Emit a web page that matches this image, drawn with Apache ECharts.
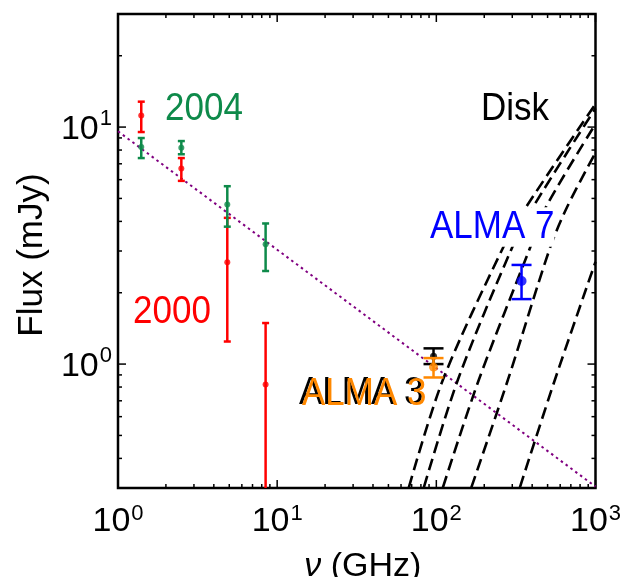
<!DOCTYPE html>
<html><head><meta charset="utf-8">
<script src="https://cdn.jsdelivr.net/npm/echarts@6/dist/echarts.min.js"></script>
<style>html,body{margin:0;padding:0;background:#fff}#c{width:628px;height:577px}</style>
</head><body><div id="c"></div>
<script>
// ---------------- data ----------------
const obs2000Freq = [1.4, 2.5, 4.86, 8.46];
const obs2000Flux = [11.2, 6.68, 2.69, 0.82];
const obs2000Low  = [9.53, 5.93, 1.245, 0.1];
const obs2000High = [12.8, 7.40, 4.14, 1.49];

const obs2004Freq = [1.4, 2.5, 4.86, 8.46];
const obs2004Flux = [8.24, 8.19, 4.71, 3.20];
const obs2004Low  = [7.40, 7.68, 3.80, 2.47];
const obs2004High = [8.99, 8.73, 5.63, 3.92];

const alma3bFreq = [96];
const alma3bFlux = [1.08];
const alma3bLow  = [1.0];
const alma3bHigh = [1.165];

const alma3Freq = [96];
const alma3Flux = [0.971];
const alma3Low  = [0.878];
const alma3High = [1.06];

const alma7Freq = [343];
const alma7Flux = [2.24];
const alma7Low  = [1.88];
const alma7High = [2.62];

const powerLawFreq = [1, 1000];
const powerLawFlux = [9.6, 0.304];

const diskAFreq = [67.2, 110, 262, 366, 1000];
const diskAFlux = [0.302, 0.859, 3.09, 4.59, 12.5];
const diskBFreq = [83.5, 136.6, 298.6, 404.6, 1000];
const diskBFlux = [0.302, 0.859, 3.09, 4.59, 12.0];
const diskCFreq = [110, 185, 387.6, 488, 1000];
const diskCFlux = [0.302, 0.859, 3.09, 4.59, 10.3];
const diskDFreq = [166, 281.8, 517.6, 662, 1000];
const diskDFlux = [0.302, 0.859, 3.09, 4.59, 7.8];
const diskEFreq = [335, 556, 1000];
const diskEFlux = [0.302, 0.859, 2.7];

const xMajorTicks = [1, 10, 100, 1000];
const xMinorTicks = [2,3,4,5,6,7,8,9,20,30,40,50,60,70,80,90,200,300,400,500,600,700,800,900];
const yMajorTicks = [1, 10];
const yMinorTicks = [0.3,0.4,0.5,0.6,0.7,0.8,0.9,2,3,4,5,6,7,8,9,20,30];

// ---------------- helpers ----------------
const FONT = '"Liberation Sans", Arial, Helvetica, sans-serif';
const zip = (a, b) => a.map((v, i) => [v, b[i]]);
const zip3 = (a, b, c) => a.map((v, i) => [v, b[i], c[i]]);

function errRender(capW, color, lw) {
  return function (params, api) {
    const cs = params.coordSys;
    const x = api.value(0), lo = api.value(1), hi = api.value(2);
    const pLo = api.coord([x, lo]), pHi = api.coord([x, hi]);
    const yb = cs.y + cs.height, yt = cs.y;
    const y1 = Math.min(pLo[1], yb), y2 = Math.max(pHi[1], yt);
    const st = { stroke: color, lineWidth: lw };
    const ch = [{ type: 'line', shape: { x1: pLo[0], y1: y1, x2: pLo[0], y2: y2 }, style: st }];
    if (pHi[1] >= yt) ch.push({ type: 'line', shape: { x1: pHi[0] - capW / 2, y1: pHi[1], x2: pHi[0] + capW / 2, y2: pHi[1] }, style: st });
    if (pLo[1] <= yb) ch.push({ type: 'line', shape: { x1: pLo[0] - capW / 2, y1: pLo[1], x2: pLo[0] + capW / 2, y2: pLo[1] }, style: st });
    return { type: 'group', children: ch };
  };
}
function errSeries(freq, lo, hi, capW, color, lw, z) {
  return { type: 'custom', data: zip3(freq, lo, hi), encode: { x: 0, y: [1, 2] },
    renderItem: errRender(capW, color, lw), z: z, silent: true };
}
function dotSeries(freq, flux, color, size, z) {
  return { type: 'scatter', data: zip(freq, flux), symbol: 'circle', symbolSize: size,
    itemStyle: { color: color }, z: z, silent: true };
}
function diskSeries(freq, flux) {
  return { type: 'line', data: zip(freq, flux), showSymbol: false, symbol: 'none', smooth: 0.3,
    lineStyle: { color: '#000', width: 2.6, type: [12, 6] }, z: 3, silent: true, clip: true };
}
function xTickRender(params, api) {
  const cs = params.coordSys;
  const px = api.coord([api.value(0), 1])[0];
  const len = api.value(2);
  const st = { stroke: '#000', lineWidth: 1.5 };
  return { type: 'group', children: [
    { type: 'line', shape: { x1: px, y1: cs.y + cs.height, x2: px, y2: cs.y + cs.height - len }, style: st },
    { type: 'line', shape: { x1: px, y1: cs.y, x2: px, y2: cs.y + len }, style: st } ] };
}
function yTickRender(params, api) {
  const cs = params.coordSys;
  const py = api.coord([1, api.value(1)])[1];
  const len = api.value(2);
  const st = { stroke: '#000', lineWidth: 1.5 };
  return { type: 'group', children: [
    { type: 'line', shape: { x1: cs.x, y1: py, x2: cs.x + len, y2: py }, style: st },
    { type: 'line', shape: { x1: cs.x + cs.width, y1: py, x2: cs.x + cs.width - len, y2: py }, style: st } ] };
}
function powLabel(v) {
  const e = Math.log10(v), r = Math.round(e);
  if (Math.abs(e - r) > 1e-6) return '';
  return '{b|10}{s|' + r + '}';
}
const xLabelRich = {
  b: { fontFamily: FONT, fontSize: 34, color: '#000', lineHeight: 36 },
  s: { fontFamily: FONT, fontSize: 22, color: '#000', lineHeight: 22, padding: [0, 0, 16, 1] }
};
const yLabelRich = {
  b: { fontFamily: FONT, fontSize: 34, color: '#000', lineHeight: 36, padding: [6, 0, 0, 0] },
  s: { fontFamily: FONT, fontSize: 22, color: '#000', lineHeight: 22, padding: [0, 0, 16, 1] }
};
function annot(text, x, y, color, z, extra) {
  return { type: 'text', x: x, y: y, z: z, scaleY: 1.1,
    style: Object.assign({ text: text, fill: color, font: '35px ' + FONT, align: 'left', verticalAlign: 'middle' }, extra || {}) };
}

const chart = echarts.init(document.getElementById('c'), null, { renderer: 'canvas' });
chart.setOption({
  animation: false,
  backgroundColor: '#fff',
  grid: { left: 118, right: 32.5, top: 14, bottom: 89, outerBoundsMode: 'none', containLabel: false,
    show: true, borderColor: '#000', borderWidth: 2.5, backgroundColor: 'transparent' },
  xAxis: {
    type: 'log', logBase: 10, min: 1, max: 1000,
    axisLine: { show: false }, axisTick: { show: false }, splitLine: { show: false },
    axisLabel: { formatter: powLabel, rich: xLabelRich, margin: 16, showMinLabel: true, showMaxLabel: true },
    name: '{i|ν} (GHz)', nameLocation: 'middle', nameGap: 62,
    nameTextStyle: { fontFamily: FONT, fontSize: 34, color: '#000', padding: [0, 0, 0, 12],
      rich: { i: { fontFamily: FONT, fontSize: 34, fontStyle: 'italic', color: '#000' } } }
  },
  yAxis: {
    type: 'log', logBase: 10, min: 0.3, max: 30,
    axisLine: { show: false }, axisTick: { show: false }, splitLine: { show: false },
    axisLabel: { formatter: powLabel, rich: yLabelRich, margin: 6, showMinLabel: true, showMaxLabel: true },
    name: 'Flux (mJy)', nameLocation: 'middle', nameGap: 64, nameRotate: 90,
    nameTextStyle: { fontFamily: FONT, fontSize: 35, color: '#000', padding: [0, 8, 0, 0] }
  },
  series: [
    { type: 'custom', data: xMajorTicks.map(v => [v, 1, 8]).concat(xMinorTicks.map(v => [v, 1, 4])),
      encode: { x: 0, y: 1 }, renderItem: xTickRender, z: 1, silent: true },
    { type: 'custom', data: yMajorTicks.map(v => [1, v, 8]).concat(yMinorTicks.map(v => [1, v, 4])),
      encode: { x: 0, y: 1 }, renderItem: yTickRender, z: 1, silent: true },
    { type: 'line', data: zip(powerLawFreq, powerLawFlux), showSymbol: false, symbol: 'none',
      lineStyle: { color: '#800080', width: 2, type: [2.5, 3.5] }, z: 2, silent: true },
    diskSeries(diskAFreq, diskAFlux),
    diskSeries(diskBFreq, diskBFlux),
    diskSeries(diskCFreq, diskCFlux),
    diskSeries(diskDFreq, diskDFlux),
    diskSeries(diskEFreq, diskEFlux),
    errSeries(obs2000Freq, obs2000Low, obs2000High, 7, '#ff0000', 2.5, 5),
    dotSeries(obs2000Freq, obs2000Flux, '#ff0000', 6, 5),
    errSeries(obs2004Freq, obs2004Low, obs2004High, 7, '#0e8a4a', 2.5, 6),
    dotSeries(obs2004Freq, obs2004Flux, '#0e8a4a', 6, 6),
    errSeries(alma3bFreq, alma3bLow, alma3bHigh, 20, '#000', 2.5, 7),
    dotSeries(alma3bFreq, alma3bFlux, '#000', 7, 7),
    errSeries(alma3Freq, alma3Low, alma3High, 20, '#ff8800', 2.5, 8),
    dotSeries(alma3Freq, alma3Flux, '#ff8800', 9, 8),
    errSeries(alma7Freq, alma7Low, alma7High, 20, '#0000ff', 2.5, 8),
    dotSeries(alma7Freq, alma7Flux, '#0000ff', 10, 8)
  ],
  graphic: [
    annot('2004', 165, 109, '#0e8a4a', 100),
    annot('2000', 133, 312, '#ff0000', 100),
    annot('Disk', 481, 109, '#000', 100),
    annot('ALMA 7', 430, 227, '#0000ff', 100, { backgroundColor: '#fff', lineHeight: 36 }),
    annot('ALMA 3', 299, 393, '#000', 100),
    annot('ALMA 3', 302, 394, '#ff8800', 101)
  ]
});
</script>
</body></html>
